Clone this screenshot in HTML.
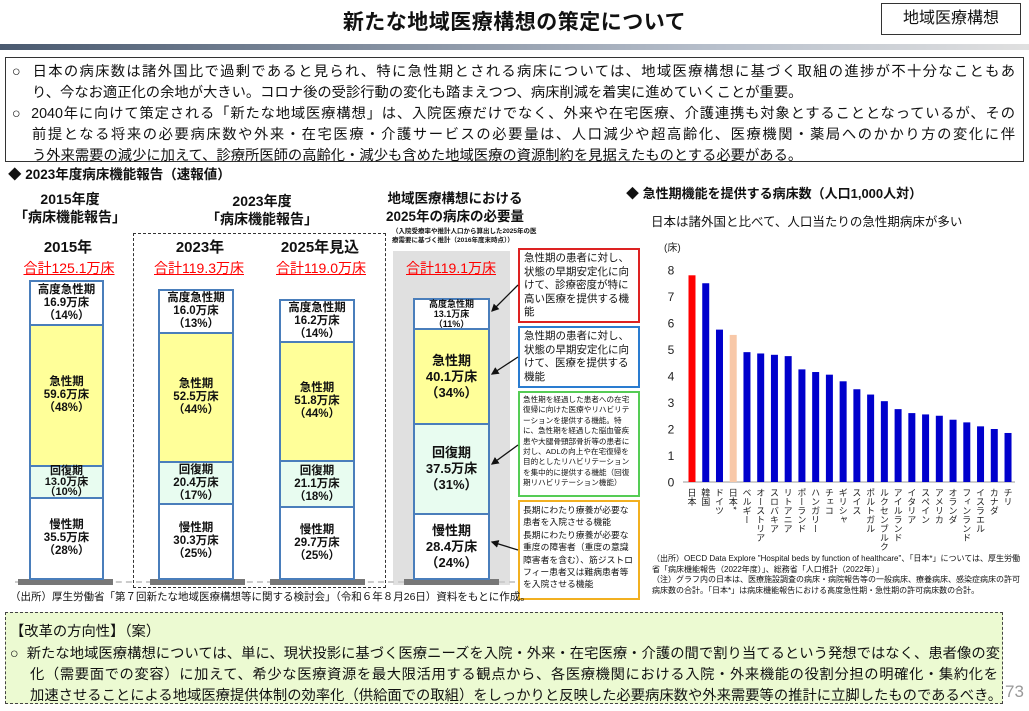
<!DOCTYPE html>
<html><head><meta charset="utf-8">
<style>
body{margin:0;width:1029px;height:711px;background:#fff;position:relative;overflow:hidden;font-family:"Liberation Sans","Noto Sans CJK JP",sans-serif;color:#111}
.a{position:absolute}
.ln{position:absolute;white-space:nowrap;font-size:14.3px;letter-spacing:0}
.j{text-align:justify;text-align-last:justify;overflow:hidden}
.seg{position:absolute;box-sizing:border-box;border:2.5px solid #4a7ebb;text-align:center;font-weight:bold;font-size:11.5px;line-height:13px;display:flex;flex-direction:column;justify-content:center;align-items:center}
.ctr{position:absolute;text-align:center;font-weight:bold;white-space:nowrap;transform:translateX(-50%)}
.red{color:#f00;text-decoration:underline;font-weight:normal;font-size:14px}
.box{position:absolute;box-sizing:border-box;border:2px solid;font-size:10.5px;line-height:13.5px;padding:2px 4px;background:#fff;overflow:hidden}
.base{position:absolute;height:6px;background:#777;top:579px}
</style></head><body>
<div class="a" style="left:0;width:1029px;top:6px;text-align:center;font-size:21px;font-weight:bold;letter-spacing:0.5px">新たな地域医療構想の策定について</div>
<div class="a" style="left:881px;top:3px;width:140px;height:32px;box-sizing:border-box;border:1.5px solid #333;font-size:16px;text-align:center;line-height:29px">地域医療構想</div>
<div class="a" style="left:0;top:44px;width:1029px;height:6px;background:linear-gradient(90deg,#4a5a70,#b8c0cc 70%,#e0e0e0)"></div>
<div class="a" style="left:5px;top:57px;width:1019px;height:105px;box-sizing:border-box;border:1.5px solid #333"></div>
<div class="ln j" style="left:12px;top:60px;width:1003px">○&nbsp; 日本の病床数は諸外国比で過剰であると見られ、特に急性期とされる病床については、地域医療構想に基づく取組の進捗が不十分なこともあ</div>
<div class="ln" style="left:32px;top:81px">り、今なお適正化の余地が大きい。コロナ後の受診行動の変化も踏まえつつ、病床削減を着実に進めていくことが重要。</div>
<div class="ln j" style="left:12px;top:102px;width:1003px">○&nbsp; 2040年に向けて策定される「新たな地域医療構想」は、入院医療だけでなく、外来や在宅医療、介護連携も対象とすることとなっているが、その</div>
<div class="ln j" style="left:32px;top:123px;width:983px">前提となる将来の必要病床数や外来・在宅医療・介護サービスの必要量は、人口減少や超高齢化、医療機関・薬局へのかかり方の変化に伴</div>
<div class="ln" style="left:32px;top:144px">う外来需要の減少に加えて、診療所医師の高齢化・減少も含めた地域医療の資源制約を見据えたものとする必要がある。</div>

<div class="a" style="left:8px;top:163px;font-size:13.5px;font-weight:bold">◆ 2023年度病床機能報告（速報値）</div>

<div class="ctr" style="left:70px;top:190px;font-size:14px;line-height:18px">2015年度<br>「病床機能報告」</div>
<div class="ctr" style="left:262px;top:192px;font-size:14px;line-height:18px">2023年度<br>「病床機能報告」</div>
<div class="ctr" style="left:455px;top:190px;font-size:13.5px;line-height:18px">地域医療構想における<br>2025年の病床の必要量</div>
<div class="a" style="left:392px;top:227px;font-size:6.5px;line-height:9px;font-weight:bold;white-space:nowrap">（入院受療率や推計人口から算出した2025年の医<br>療需要に基づく推計（2016年度末時点））</div>
<div class="a" style="left:133px;top:233px;width:253px;height:355px;box-sizing:border-box;border:1.5px dashed #333"></div>
<div class="a" style="left:393px;top:251px;width:117px;height:334px;background:#e0e0e0"></div>

<div class="ctr" style="left:68px;top:236px;font-size:15px">2015年</div>
<div class="ctr" style="left:200px;top:236px;font-size:15px">2023年</div>
<div class="ctr" style="left:320px;top:236px;font-size:15px">2025年見込</div>
<div class="ctr red" style="left:69px;top:258px">合計125.1万床</div>
<div class="ctr red" style="left:199px;top:258px">合計119.3万床</div>
<div class="ctr red" style="left:321px;top:258px">合計119.0万床</div>
<div class="ctr red" style="left:451px;top:258px">合計119.1万床</div>

<div class="a" style="left:15px;top:581px;width:500px;border-top:2px dashed #ccc"></div>
<div class="base" style="left:18px;width:95px"></div>
<div class="base" style="left:150px;width:95px"></div>
<div class="base" style="left:270px;width:95px"></div>
<div class="base" style="left:404px;width:95px"></div>

<div class="seg" style="left:29px;width:75px;top:280px;height:46px;background:#fff">高度急性期<br>16.9万床<br>（14%）</div>
<div class="seg" style="left:29px;width:75px;top:324px;height:143px;background:#ffff99">急性期<br>59.6万床<br>（48%）</div>
<div class="seg" style="left:29px;width:75px;top:465px;height:34px;background:#e8fcf0;font-size:11px;line-height:10.5px">回復期<br>13.0万床<br>（10%）</div>
<div class="seg" style="left:29px;width:75px;top:497px;height:83px;background:#fff">慢性期<br>35.5万床<br>（28%）</div>
<div class="seg" style="left:158px;width:76px;top:289px;height:45px;background:#fff">高度急性期<br>16.0万床<br>（13%）</div>
<div class="seg" style="left:158px;width:76px;top:332px;height:131px;background:#ffff99">急性期<br>52.5万床<br>（44%）</div>
<div class="seg" style="left:158px;width:76px;top:461px;height:44px;background:#e8fcf0">回復期<br>20.4万床<br>（17%）</div>
<div class="seg" style="left:158px;width:76px;top:503px;height:77px;background:#fff">慢性期<br>30.3万床<br>（25%）</div>
<div class="seg" style="left:279px;width:76px;top:299px;height:44px;background:#fff">高度急性期<br>16.2万床<br>（14%）</div>
<div class="seg" style="left:279px;width:76px;top:341px;height:121px;background:#ffff99">急性期<br>51.8万床<br>（44%）</div>
<div class="seg" style="left:279px;width:76px;top:460px;height:48px;background:#e8fcf0">回復期<br>21.1万床<br>（18%）</div>
<div class="seg" style="left:279px;width:76px;top:506px;height:74px;background:#fff">慢性期<br>29.7万床<br>（25%）</div>
<div class="seg" style="left:413px;width:77px;top:298px;height:32px;background:#fff;font-size:9px;line-height:10px">高度急性期<br>13.1万床<br>（11%）</div>
<div class="seg" style="left:413px;width:77px;top:328px;height:97px;background:#ffff99;font-size:13px;line-height:16px">急性期<br>40.1万床<br>（34%）</div>
<div class="seg" style="left:413px;width:77px;top:423px;height:92px;background:#e8fcf0;font-size:13px;line-height:16px">回復期<br>37.5万床<br>（31%）</div>
<div class="seg" style="left:413px;width:77px;top:513px;height:67px;background:#fff;font-size:13px;line-height:16px">慢性期<br>28.4万床<br>（24%）</div>

<div class="box" style="left:518px;top:248px;width:122px;height:75px;border-color:#d22;font-size:10.5px">急性期の患者に対し、状態の早期安定化に向けて、診療密度が特に高い医療を提供する機能</div>
<div class="box" style="left:518px;top:326px;width:122px;height:62px;border-color:#2a7cd0">急性期の患者に対し、状態の早期安定化に向けて、医療を提供する機能</div>
<div class="box" style="left:518px;top:391px;width:122px;height:106px;border-color:#5c5;font-size:7.6px;line-height:10.4px;padding:2px 3px">急性期を経過した患者への在宅復帰に向けた医療やリハビリテーションを提供する機能。特に、急性期を経過した脳血管疾患や大腿骨頸部骨折等の患者に対し、ADLの向上や在宅復帰を目的としたリハビリテーションを集中的に提供する機能（回復期リハビリテーション機能）</div>
<div class="box" style="left:518px;top:500px;width:122px;height:100px;border-color:#f2b020;font-size:8.8px;line-height:12.4px;padding:2px 3px">長期にわたり療養が必要な患者を入院させる機能<br>長期にわたり療養が必要な重度の障害者（重度の意識障害者を含む）、筋ジストロフィー患者又は難病患者等を入院させる機能</div>
<svg class="a" style="left:0;top:0" width="1029" height="711">
<defs><marker id="ah" markerWidth="6" markerHeight="6" refX="5" refY="3" orient="auto"><path d="M0,0L6,3L0,6z" fill="#111"/></marker></defs>
<line x1="518" y1="285" x2="492" y2="311" stroke="#111" stroke-width="1.3" marker-end="url(#ah)"/>
<line x1="518" y1="357" x2="492" y2="374" stroke="#111" stroke-width="1.3" marker-end="url(#ah)"/>
<line x1="518" y1="445" x2="492" y2="464" stroke="#111" stroke-width="1.3" marker-end="url(#ah)"/>
<line x1="518" y1="550" x2="492" y2="542" stroke="#111" stroke-width="1.3" marker-end="url(#ah)"/>
</svg>
<div class="a" style="left:10px;top:589px;font-size:10.5px;white-space:nowrap">（出所）厚生労働省「第７回新たな地域医療構想等に関する検討会」（令和６年８月26日）資料をもとに作成。</div>

<div class="a" style="left:626px;top:183px;font-size:13px;font-weight:bold;white-space:nowrap">◆ 急性期機能を提供する病床数（人口1,000人対）</div>
<div class="a" style="left:651px;top:211px;font-size:12.5px;white-space:nowrap">日本は諸外国と比べて、人口当たりの急性期病床が多い</div>
<svg class="a" id="chart" style="left:0;top:0" width="1029" height="711"></svg>
<div class="a" style="left:652px;top:554px;font-size:8px;line-height:10.5px;width:375px">（出所）OECD Data Explore "Hospital beds by function of healthcare"、「日本*」については、厚生労働省「病床機能報告（2022年度）」、総務省「人口推計（2022年）」<br>（注）グラフ内の日本は、医療施設調査の病床・病院報告等の一般病床、療養病床、感染症病床の許可病床数の合計。「日本*」は病床機能報告における高度急性期・急性期の許可病床数の合計。</div>

<div class="a" style="left:5px;top:612px;width:998px;height:92px;box-sizing:border-box;border:1.5px dashed #444;background:#ecfad2"></div>
<div class="ln" style="left:10px;top:620px">【改革の方向性】（案）</div>
<div class="ln j" style="left:10px;top:642px;width:990px">○&nbsp; 新たな地域医療構想については、単に、現状投影に基づく医療ニーズを入院・外来・在宅医療・介護の間で割り当てるという発想ではなく、患者像の変</div>
<div class="ln j" style="left:30px;top:663px;width:968px">化（需要面での変容）に加えて、希少な医療資源を最大限活用する観点から、各医療機関における入院・外来機能の役割分担の明確化・集約化を</div>
<div class="ln j" style="left:30px;top:684px;width:972px">加速させることによる地域医療提供体制の効率化（供給面での取組）をしっかりと反映した必要病床数や外来需要等の推計に立脚したものであるべき。</div>
<div class="a" style="left:1005px;top:682px;font-size:17px;color:#999">73</div>

<script>
const countries=["日本","韓国","ドイツ","日本*","ベルギー","オーストリア","スロバキア","リトアニア","ポーランド","ハンガリー","チェコ","ギリシャ","スイス","ポルトガル","ルクセンブルク","アイルランド","イタリア","スペイン","アメリカ","オランダ","フィンランド","イスラエル","カナダ","チリ"];
const beds=[7.8,7.5,5.75,5.55,4.9,4.85,4.8,4.75,4.25,4.15,4.05,3.8,3.5,3.3,3.05,2.75,2.6,2.55,2.5,2.35,2.25,2.1,2.0,1.85];
const yTicks=[0,1,2,3,4,5,6,7,8];
const svg=document.getElementById('chart');
const NS='http://www.w3.org/2000/svg';
const y0=482,yUnit=26.5,xStart=692,xStep=13.74;
const yScale=v=>y0-v*yUnit;
const xScale=i=>xStart+i*xStep;
function mk(tag,attrs){const e=document.createElementNS(NS,tag);for(const k in attrs)e.setAttribute(k,attrs[k]);svg.appendChild(e);return e;}
yTicks.forEach(t=>{
  const tx=mk('text',{x:671,y:yScale(t)+4.5,'text-anchor':'middle','font-size':12,fill:'#222'});
  tx.textContent=t;
  
  
});
const unit=mk('text',{x:664,y:251,'font-size':10,fill:'#222'});
unit.textContent='(床)';


const ax=mk('line',{x1:683,x2:1015,y1:y0,y2:y0,stroke:'#bbb','stroke-width':1.5});


beds.forEach((v,i)=>{
  const c=i===0?'#ff0000':(i===3?'#f8c8a8':'#0000cc');
  const r=mk('rect',{x:xScale(i)-3.5,y:yScale(v),width:7,height:y0-yScale(v),fill:c});
  
  
  const t=mk('text',{x:xScale(i),y:488,'font-size':9,fill:'#222','writing-mode':'vertical-rl','font-family':'Noto Sans CJK JP, sans-serif'});
  t.textContent=countries[i];
  
  
});
</script>
</body></html>
